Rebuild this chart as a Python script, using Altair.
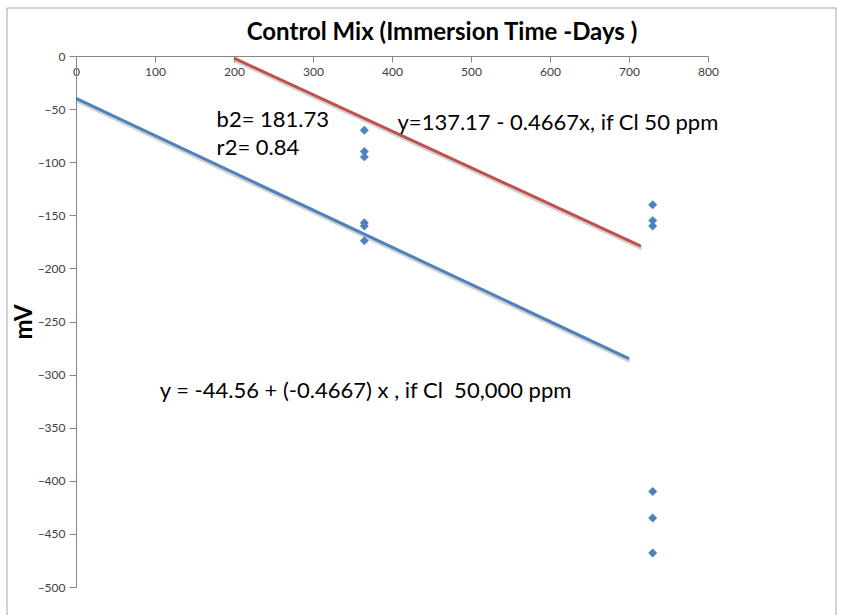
import altair as alt
import pandas as pd

# ---- data ----
point_days = [365, 365, 365, 365, 365, 365, 730, 730, 730, 730, 730, 730]
point_mv = [-70, -90, -95, -157, -160, -174, -140, -155, -160, -410, -435, -468]

fit50k_days = [0, 700]
fit50k_mv = [-40, -285]
fit50_days = [200, 715]
fit50_mv = [-2, -179]

note_text = [
    "b2= 181.73",
    "r2= 0.84",
    "y=137.17 - 0.4667x, if Cl 50 ppm",
    "y = -44.56 + (-0.4667) x , if Cl \u00a050,000 ppm",
]
note_days = [178, 178, 407, 106]
note_mv = [-60, -87, -63, -315]

x_ticks = list(range(0, 801, 100))
y_ticks = list(range(-500, 1, 50))

title_text = "Control Mix (Immersion Time -Days )"
y_title = "mV"

FONT = "Lato"
W, H = 632, 531

pts = pd.DataFrame({"days": point_days, "mv": point_mv})
blue = pd.DataFrame({"days": fit50k_days, "mv": fit50k_mv})
red = pd.DataFrame({"days": fit50_days, "mv": fit50_mv})
notes = pd.DataFrame({"days": note_days, "mv": note_mv, "t": note_text})

xs = alt.Scale(domain=[0, 800], nice=False, zero=False)
ys = alt.Scale(domain=[-500, 0], nice=False, zero=False)

x_axis = alt.Axis(
    orient="bottom", offset=-H, values=x_ticks, grid=False,
    tickSize=6, labelPadding=4, labelFontSize=12, labelFont=FONT,
    labelColor="#404040", domainColor="#868686", tickColor="#868686",
    title=None, labelFlush=False,
)
y_axis = alt.Axis(
    orient="left", values=y_ticks, grid=False, tickSize=7, labelPadding=4,
    labelFontSize=12, labelFont=FONT, labelColor="#404040",
    domainColor="#868686", tickColor="#868686",
    title=y_title, titleFont=FONT, titleFontSize=24, titleFontWeight="bold",
    titleColor="#000000", titleX=-52, titleY=H / 2, titleAngle=-90,
    titleBaseline="middle", titleAlign="center",
)

base_x = alt.X("days:Q", scale=xs, axis=x_axis)
base_y = alt.Y("mv:Q", scale=ys, axis=y_axis)

def line_layer(df, color):
    shadow = alt.Chart(df).mark_line(
        color="#7f7f7f", strokeWidth=3.5, opacity=0.35, xOffset=1, yOffset=2.5
    ).encode(x=alt.X("days:Q", scale=xs), y=alt.Y("mv:Q", scale=ys))
    ln = alt.Chart(df).mark_line(color=color, strokeWidth=3).encode(
        x=alt.X("days:Q", scale=xs), y=alt.Y("mv:Q", scale=ys)
    )
    return shadow + ln

points = alt.Chart(pts).mark_point(
    shape="diamond", filled=True, size=80, color="#4F81BD", opacity=1
).encode(x=base_x, y=base_y)

texts = alt.Chart(notes).mark_text(
    align="left", baseline="middle", font=FONT, fontSize=22, color="#000000"
).encode(x=alt.X("days:Q", scale=xs), y=alt.Y("mv:Q", scale=ys), text="t:N")

title = alt.Chart(pd.DataFrame({"t": [title_text]})).mark_text(
    align="center", baseline="middle", font=FONT, fontSize=24,
    fontWeight="bold", color="#000000"
).encode(x=alt.value(366), y=alt.value(-23), text="t:N")

border_left = alt.Chart(pd.DataFrame({"a": [0]})).mark_rule(
    color="#a6a6a6", strokeWidth=1
).encode(x=alt.value(-69), y=alt.value(-48), y2=alt.value(H + 40))
border_top = alt.Chart(pd.DataFrame({"a": [0]})).mark_rule(
    color="#a6a6a6", strokeWidth=1
).encode(x=alt.value(-69), x2=alt.value(760), y=alt.value(-48))
border_right = alt.Chart(pd.DataFrame({"a": [0]})).mark_rule(
    color="#a6a6a6", strokeWidth=1
).encode(x=alt.value(760), y=alt.value(-48), y2=alt.value(H + 40))

chart = alt.layer(
    border_left, border_top, border_right,
    points,
    line_layer(blue, "#4F81BD"),
    line_layer(red, "#C0504D"),
    texts, title,
).properties(
    width=W, height=H,
    autosize=alt.AutoSizeParams(type="none"),
    padding={"left": 76, "top": 56, "right": 843 - 76 - W, "bottom": 615 - 56 - H},
    background="#ffffff",
).configure_view(stroke=None)

chart.save("out.html", embed_options={"renderer": "svg", "actions": False})
